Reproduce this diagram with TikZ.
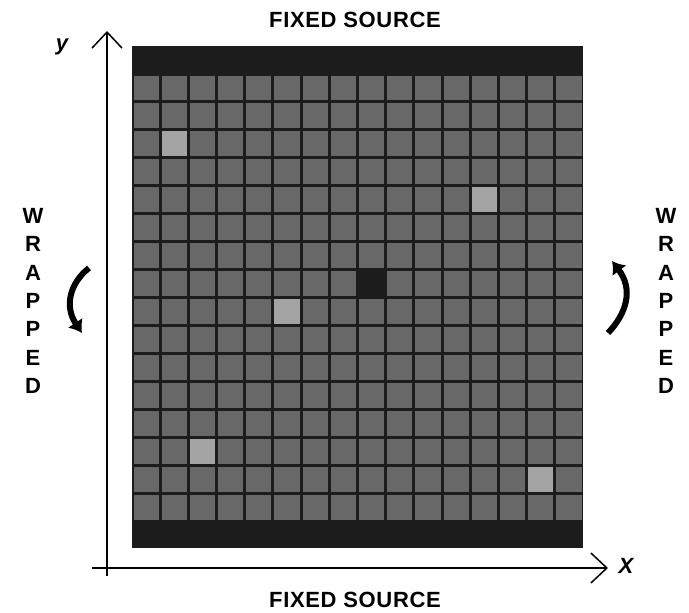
\documentclass[tikz,border=0pt]{standalone}
\usepackage{fontspec}
\setmainfont{Liberation Sans}
\usetikzlibrary{arrows.meta}

\definecolor{bandgray}{HTML}{1C1C1C}
\definecolor{cellgray}{HTML}{686868}
\definecolor{spotgray}{HTML}{A4A4A4}

\tikzset{
  srclabel/.style={font=\addfontfeatures{LetterSpace=3}\bfseries\fontsize{22}{24}\selectfont},
  wraplabel/.style={align=center, font=\bfseries\fontsize{22}{28.3}\selectfont},
  axislabel/.style={font=\bfseries\itshape\fontsize{22}{24}\selectfont},
  axis/.style={line width=2pt, -{Straight Barb[length=16pt,width=30pt,line width=1.5pt]}},
  wraparrow/.style={line width=6pt, -{Latex[length=12pt,width=18pt]}}
}

\begin{document}
\begin{tikzpicture}[x=1pt,y=-1pt]
\useasboundingbox (0,0) rectangle (689,613);

% lattice with source rows
\fill[bandgray] (132,46) rectangle (583,548);
\foreach \i in {0,...,15}
  \foreach \j in {0,...,15}
    \fill[cellgray] ({133.5+\i*28.19},{75.5+\j*27.94}) rectangle ++(25.2,24.9);
\foreach \i/\j in {1/2, 12/4, 5/8, 2/13, 14/14}
  \fill[spotgray] ({133.5+\i*28.19},{75.5+\j*27.94}) rectangle ++(25.2,24.9);
\fill[bandgray] ({133.5+8*28.19},{75.5+7*27.94}) rectangle ++(25.2,24.9);

% axes
\coordinate (origin) at (107,568);
\coordinate (ystart) at (107,576);
\coordinate (xstart) at (92,568);
\coordinate (ytip) at (107,31);
\coordinate (xtip) at (608,568);
\draw[axis] (ystart) -- (ytip);
\draw[axis] (xstart) -- (xtip);
\node[axislabel] (ylab) at (62,47) {y};
\node[axislabel] (xlab) at (626,566) {X};

\node[srclabel] (top) at (355,20) {FIXED SOURCE};
\node[srclabel] (bottom) at (355,600) {FIXED SOURCE};

\node[wraplabel] (wrapleft) at (33,301) {W\\R\\A\\P\\P\\E\\D};
\node[wraplabel] (wrapright) at (666,301) {W\\R\\A\\P\\P\\E\\D};

% wrap arrows
\coordinate (lstart) at (89,268);
\coordinate (lend) at (82,333);
\coordinate (rstart) at (608,333);
\coordinate (rend) at (612,261);
\draw[wraparrow] (lstart) .. controls (70,283) and (64,306) .. (lend);
\draw[wraparrow] (rstart) .. controls (626,314) and (634,290) .. (rend);

\end{tikzpicture}
\end{document}
